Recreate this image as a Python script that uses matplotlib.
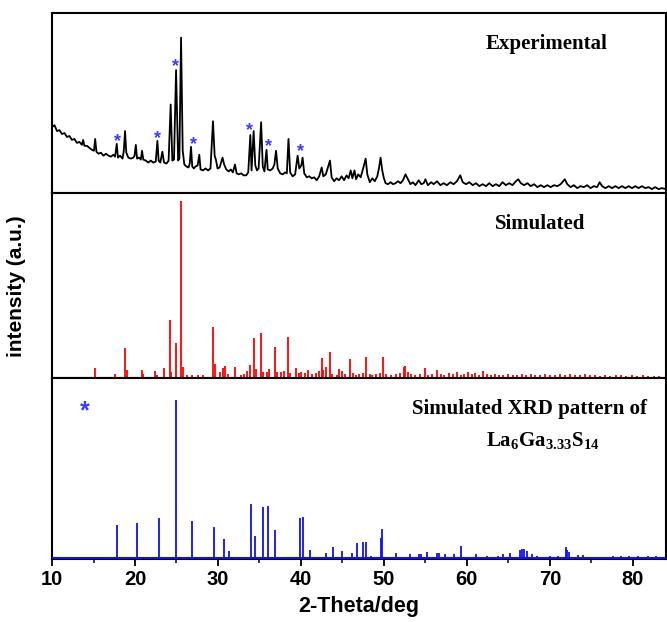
import matplotlib.pyplot as plt
import numpy as np

plt.rcParams["font.family"] = ["Liberation Sans", "DejaVu Sans"]
plt.rcParams["mathtext.fontset"] = "custom"
plt.rcParams["mathtext.rm"] = "Liberation Serif:bold"
plt.rcParams["mathtext.bf"] = "Liberation Serif:bold"

# Experimental pattern (2-theta in degrees, counts in a.u.)
exp_2theta = [
    10.0, 10.3, 10.6, 10.9, 11.2, 11.5, 11.8, 12.1, 12.4, 12.7, 13.0, 13.3, 13.6, 13.75, 13.9,
    14.2, 14.5, 14.8, 15.05, 15.2, 15.35, 15.6, 15.9, 16.2, 16.5, 16.8, 17.1, 17.4, 17.6, 17.8,
    17.95, 18.2, 18.5, 18.65, 18.8, 18.95, 19.2, 19.5, 19.8, 19.95, 20.1, 20.25, 20.5, 20.7, 20.85,
    21.0, 21.3, 21.6, 21.9, 22.2, 22.5, 22.7, 22.85, 23.05, 23.3, 23.5, 23.8, 24.05, 24.3, 24.5,
    24.7, 24.95, 25.2, 25.35, 25.55, 25.75, 25.95, 26.2, 26.45, 26.6, 26.75, 26.9, 27.1, 27.3, 27.55,
    27.75, 27.9, 28.2, 28.5, 28.8, 29.1, 29.4, 29.6, 29.75, 29.95, 30.2, 30.55, 30.75, 31.0, 31.3,
    31.55, 31.8, 32.05, 32.25, 32.5, 32.8, 33.1, 33.4, 33.65, 33.9, 34.05, 34.3, 34.5, 34.7, 34.9,
    35.2, 35.4, 35.6, 35.85, 36.0, 36.3, 36.6, 36.8, 37.0, 37.2, 37.5, 37.8, 38.1, 38.3, 38.5,
    38.7, 39.0, 39.3, 39.6, 39.8, 40.05, 40.2, 40.4, 40.7, 41.0, 41.3, 41.6, 41.9, 42.2, 42.5,
    42.7, 43.0, 43.5, 43.7, 44.0, 44.3, 44.6, 44.9, 45.2, 45.5, 45.75, 46.0, 46.2, 46.45, 46.65,
    46.9, 47.2, 47.5, 47.8, 48.0, 48.3, 48.6, 48.9, 49.2, 49.4, 49.6, 49.8, 50.0, 50.2, 50.5,
    50.8, 51.1, 51.4, 51.7, 52.0, 52.3, 52.6, 52.9, 53.2, 53.5, 53.8, 54.2, 54.5, 54.8, 55.0,
    55.3, 55.7, 56.0, 56.4, 56.8, 57.2, 57.6, 58.0, 58.4, 58.8, 59.2, 59.5, 59.9, 60.3, 60.7,
    61.1, 61.5, 61.9, 62.3, 62.7, 63.1, 63.5, 63.9, 64.3, 64.7, 65.1, 65.5, 65.9, 66.2, 66.5,
    66.9, 67.3, 67.7, 68.1, 68.5, 68.9, 69.3, 69.7, 70.1, 70.5, 70.9, 71.3, 71.8, 72.1, 72.5,
    72.9, 73.3, 73.7, 74.1, 74.5, 74.9, 75.3, 75.7, 76.0, 76.3, 76.7, 77.1, 77.5, 77.9, 78.3,
    78.7, 79.1, 79.5, 79.9, 80.3, 80.7, 81.1, 81.5, 81.9, 82.3, 82.7, 83.1, 83.5, 84.0,
]
exp_counts = [
    64, 66, 60, 61, 57, 58, 54, 55, 51, 52, 48, 49, 46, 51, 45,
    45, 43, 41, 40, 52, 39, 37, 38, 35, 37, 35, 34, 36, 34, 47,
    33, 35, 32, 40, 60, 38, 33, 32, 33, 35, 46, 32, 33, 31, 40,
    31, 30, 28, 30, 28, 29, 50, 30, 28, 39, 28, 27, 30, 87, 30,
    31, 122, 30, 32, 155, 40, 26, 24, 23, 27, 44, 24, 22, 24, 25,
    36, 21, 20, 22, 20, 22, 70, 35, 31, 22, 23, 33, 26, 21, 19,
    21, 18, 26, 17, 16, 17, 15, 15, 18, 56, 20, 60, 25, 20, 22,
    69, 24, 19, 41, 21, 20, 22, 26, 40, 22, 17, 16, 18, 17, 52,
    18, 14, 16, 35, 22, 25, 33, 17, 13, 14, 12, 13, 10, 14, 23,
    14, 16, 30, 13, 9, 12, 10, 14, 10, 15, 12, 20, 12, 20, 11,
    16, 13, 22, 32, 16, 8, 12, 9, 14, 22, 33, 20, 12, 7, 6,
    8, 6, 7, 9, 7, 10, 16, 11, 6, 8, 5, 10, 6, 7, 11,
    5, 8, 6, 9, 5, 7, 5, 8, 6, 9, 15, 8, 6, 8, 5,
    7, 4, 6, 4, 7, 4, 6, 4, 8, 5, 7, 5, 9, 11, 7,
    5, 7, 4, 6, 3, 5, 3, 5, 3, 5, 4, 6, 11, 6, 3,
    5, 2, 4, 3, 5, 2, 4, 3, 8, 4, 2, 4, 2, 4, 2,
    4, 2, 4, 2, 4, 2, 4, 2, 3, 1, 3, 1, 2, 1,
]

# Impurity reflections marked in the experimental pattern
star_2theta = [17.85, 22.75, 24.9, 27.0, 33.75, 36.1, 40.0]
star_counts = [49, 52, 126, 46, 61, 44, 39]

# Simulated pattern of the main phase
sim_pos = [
    15.2, 17.55, 18.85, 19.0, 20.85, 21.0, 22.45, 22.7, 23.45, 24.2, 24.35, 24.95, 25.6, 25.8,
    26.3, 26.9, 27.6, 28.2, 29.4, 29.6, 30.2, 30.6, 30.9, 31.2, 32.05, 32.8, 33.1, 33.55, 33.85,
    34.35, 34.55, 35.15, 35.4, 35.9, 36.2, 36.9, 37.1, 37.6, 37.9, 38.5, 38.7, 39.45, 39.8, 40.0,
    40.5, 40.9, 41.3, 41.8, 42.2, 42.5, 42.7, 43.0, 43.45, 43.8, 44.3, 44.6, 45.0, 45.3, 45.9,
    46.3, 46.6, 47.0, 47.5, 47.9, 48.3, 48.6, 49.0, 49.5, 49.9, 50.3, 50.8, 51.5, 52.0, 52.4,
    52.6, 52.9, 53.3, 53.8, 54.3, 54.9, 55.3, 55.8, 56.4, 56.9, 57.3, 57.8, 58.3, 58.8, 59.3,
    59.7, 60.1, 60.6, 61.0, 61.5, 62.0, 62.4, 62.9, 63.4, 63.9, 64.4, 65.0, 65.5, 66.0, 66.6,
    67.1, 67.7, 68.2, 68.8, 69.4, 70.0, 70.6, 71.2, 71.8, 72.4, 73.0, 73.6, 74.2, 74.8, 75.5,
    76.1, 76.7, 77.3, 78.0, 78.6, 79.2, 79.9, 80.5, 81.2, 81.8, 82.5, 83.2,
]
sim_int = [
    10, 4, 30, 8, 8, 4, 7, 3, 10, 58, 6, 35, 177, 11,
    3, 3, 3, 3, 51, 14, 6, 10, 12, 4, 11, 3, 4, 7, 13,
    40, 9, 45, 6, 6, 9, 31, 6, 6, 7, 41, 5, 10, 5, 6,
    5, 8, 4, 5, 7, 20, 8, 11, 26, 4, 3, 9, 7, 4, 19,
    5, 3, 4, 5, 21, 4, 3, 4, 5, 21, 4, 3, 4, 5, 11,
    12, 6, 4, 3, 4, 10, 3, 4, 8, 4, 3, 5, 4, 6, 3,
    4, 6, 4, 5, 3, 7, 4, 3, 4, 3, 3, 4, 3, 3, 4,
    3, 4, 3, 3, 4, 3, 3, 4, 3, 4, 3, 3, 4, 3, 3,
    2, 3, 2, 3, 3, 2, 3, 2, 3, 2, 2, 2,
]

# Simulated pattern of La6Ga3.33S14
ref_pos = [
    17.8, 20.2, 22.9, 25.0, 26.9, 29.5, 30.7, 31.3, 34.0, 34.5, 35.4, 36.0, 36.9, 39.85,
    40.3, 41.1, 43.0, 43.9, 45.0, 46.1, 46.7, 47.45, 47.9, 48.5, 49.6, 49.8, 51.4, 53.1,
    54.2, 54.5, 55.2, 56.4, 56.6, 57.4, 58.4, 59.3, 61.1, 62.4, 63.8, 64.3, 65.25, 66.4,
    66.7, 66.9, 67.2, 67.8, 68.4, 70.0, 71.0, 71.9, 72.1, 72.3, 73.4, 74.0, 77.6, 78.6,
    79.6, 80.6, 81.8, 82.8,
]
ref_int = [
    33, 35, 40, 158, 37, 31, 19, 7, 54, 22, 51, 52, 28, 40,
    41, 8, 5, 11, 7, 5, 15, 16, 16, 2, 20, 29, 5, 4,
    4, 4, 6, 5, 5, 4, 4, 12, 4, 2, 2, 4, 5, 8,
    9, 9, 7, 4, 2, 2, 2, 11, 8, 6, 3, 3, 2, 1.5,
    2, 1.5, 2, 1.5,
]

fig = plt.figure(figsize=(6.67, 6.22), dpi=100)
gs = fig.add_gridspec(3, 1, height_ratios=[180, 185, 181], hspace=0,
                      left=0.078, right=0.9985, bottom=0.1013, top=0.979)
ax1 = fig.add_subplot(gs[0])
ax2 = fig.add_subplot(gs[1], sharex=ax1)
ax3 = fig.add_subplot(gs[2], sharex=ax1)

serif = dict(family="Liberation Serif", fontweight="bold", fontsize=15,
             ha="center", va="center")

# top: measured data
ax1.plot(exp_2theta, exp_counts, color="black", lw=1.3)
for x, y in zip(star_2theta, star_counts):
    ax1.text(x, y, "*", color="#3b3bff", fontsize=13, fontweight="bold",
             ha="center", va="center")
ax1.set_ylim(-3, 180)
ax1.text(0.805, 0.83, "Experimental", transform=ax1.transAxes, **serif)

# middle: simulated
ax2.vlines(sim_pos, 0, sim_int, color="#ff0000", lw=1.3)
ax2.axhline(0, color="#ff0000", lw=1.8, zorder=5, clip_on=False)
ax2.set_ylim(0, 185)
ax2.text(0.795, 0.83, "Simulated", transform=ax2.transAxes, **serif)

# bottom: reference phase
ax3.vlines(ref_pos, 0, ref_int, color="#1010ee", lw=1.3)
ax3.axhline(0, color="#1010ee", lw=1.5, zorder=5)
ax3.set_ylim(-1, 180)
ax3.text(14.0, 147, "*", color="#3b3bff", fontsize=18, fontweight="bold",
         ha="center", va="center")
ax3.text(0.778, 0.83, "Simulated XRD pattern of", transform=ax3.transAxes, **serif)
ax3.text(0.80, 0.65, "La$_{6}$Ga$_{3.33}$S$_{14}$", transform=ax3.transAxes, **serif)

for ax in (ax1, ax2, ax3):
    ax.set_yticks([])
    for s in ax.spines.values():
        s.set_linewidth(1.5)
    ax.tick_params(axis="x", which="both", direction="out", bottom=True, top=False)

for ax in (ax1, ax2):
    ax.tick_params(axis="x", which="both", bottom=False, labelbottom=False)

ax3.set_xlim(10, 84)
ax3.set_xticks(np.arange(10, 81, 10))
ax3.set_xticks(np.arange(15, 84, 5), minor=True)
ax3.tick_params(axis="x", which="major", length=5, width=1.3, labelsize=14.5, pad=3)
ax3.tick_params(axis="x", which="minor", length=3, width=1.1)
for lbl in ax3.get_xticklabels():
    lbl.set_fontweight("bold")
ax3.set_xlabel("2-Theta/deg", fontsize=15.5, fontweight="bold", labelpad=5)

fig.text(0.024, 0.54, "intensity (a.u.)", rotation=90, ha="center", va="center",
         fontsize=15, fontweight="bold")

fig.savefig("out.png", dpi=100)
